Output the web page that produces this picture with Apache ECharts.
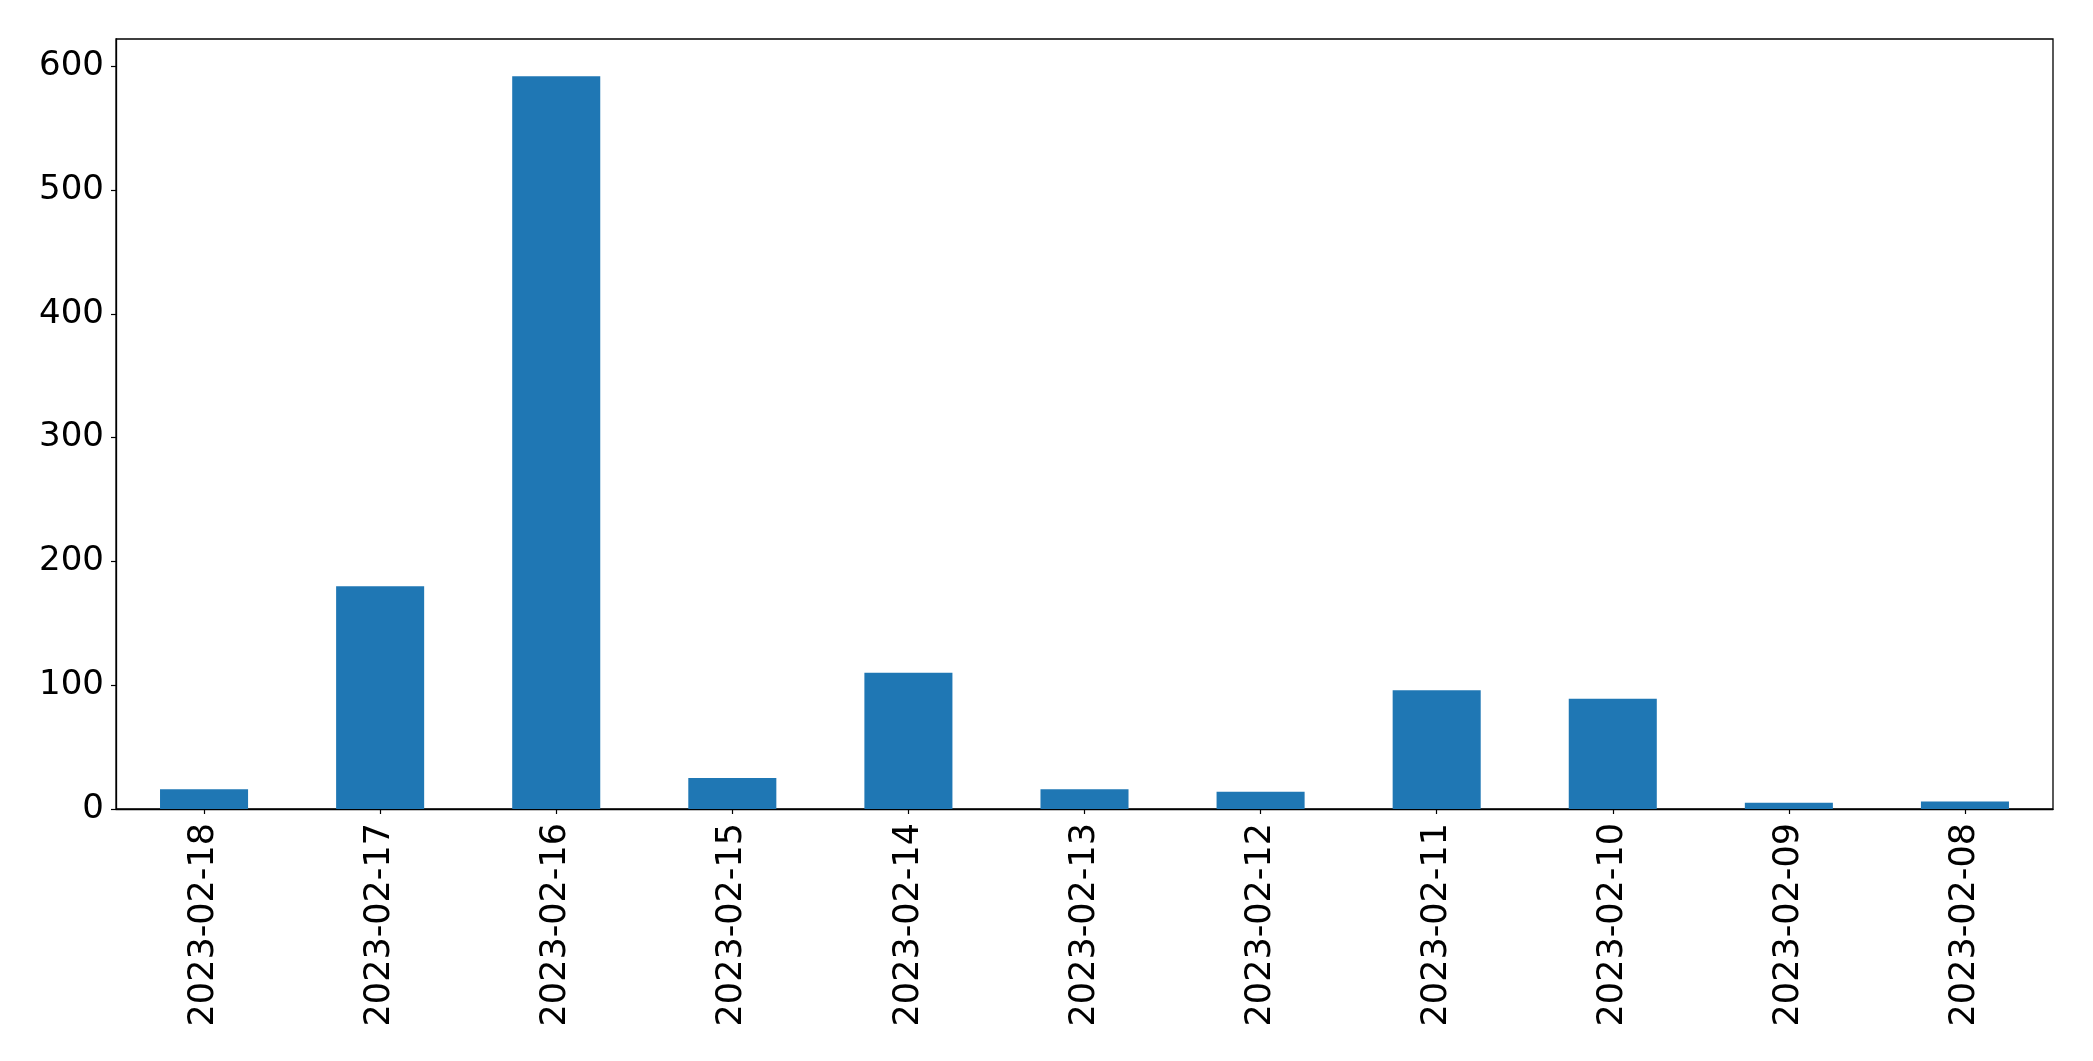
<!DOCTYPE html>
<html>
<head>
<meta charset="utf-8">
<script src="https://cdn.jsdelivr.net/npm/echarts@6/dist/echarts.min.js"></script>
<style>
html,body{margin:0;padding:0;background:#fff;}
#chart{width:2093px;height:1061px;}
</style>
</head>
<body>
<div id="chart"></div>
<script>
const categories = ['2023-02-18','2023-02-17','2023-02-16','2023-02-15','2023-02-14','2023-02-13','2023-02-12','2023-02-11','2023-02-10','2023-02-09','2023-02-08'];
const values = [16, 180, 592, 25, 110, 16, 14, 96, 89, 5, 6];
const yTicks = [0, 100, 200, 300, 400, 500, 600];

const chart = echarts.init(document.getElementById('chart'), null, {renderer: 'canvas'});
chart.setOption({
  animation: false,
  backgroundColor: '#ffffff',
  grid: {
    left: 116, right: 40, top: 39, bottom: 252,
    show: true, borderColor: '#000', borderWidth: 1.3, backgroundColor: 'transparent'
  },
  xAxis: {
    type: 'category',
    data: categories,
    boundaryGap: true,
    axisLine: {show: true, lineStyle: {color: '#000', width: 1.3}},
    axisTick: {show: true, alignWithLabel: true, length: 5, lineStyle: {color: '#000', width: 1.2}},
    axisLabel: {
      rotate: 90, margin: 14, color: '#000',
      fontFamily: 'DejaVu Sans', fontSize: 35
    },
    splitLine: {show: false}
  },
  yAxis: {
    type: 'value',
    min: 0, max: 622, interval: 100,
    axisLine: {show: true, lineStyle: {color: '#000', width: 1.3}},
    axisTick: {show: true, length: 5, lineStyle: {color: '#000', width: 1.2}, customValues: yTicks},
    axisLabel: {
      color: '#000', fontFamily: 'DejaVu Sans', fontSize: 34, margin: 12,
      customValues: yTicks
    },
    splitLine: {show: false}
  },
  series: [{
    type: 'bar',
    data: values,
    barWidth: '50%',
    itemStyle: {color: '#1f77b4'}
  }]
});
</script>
</body>
</html>
